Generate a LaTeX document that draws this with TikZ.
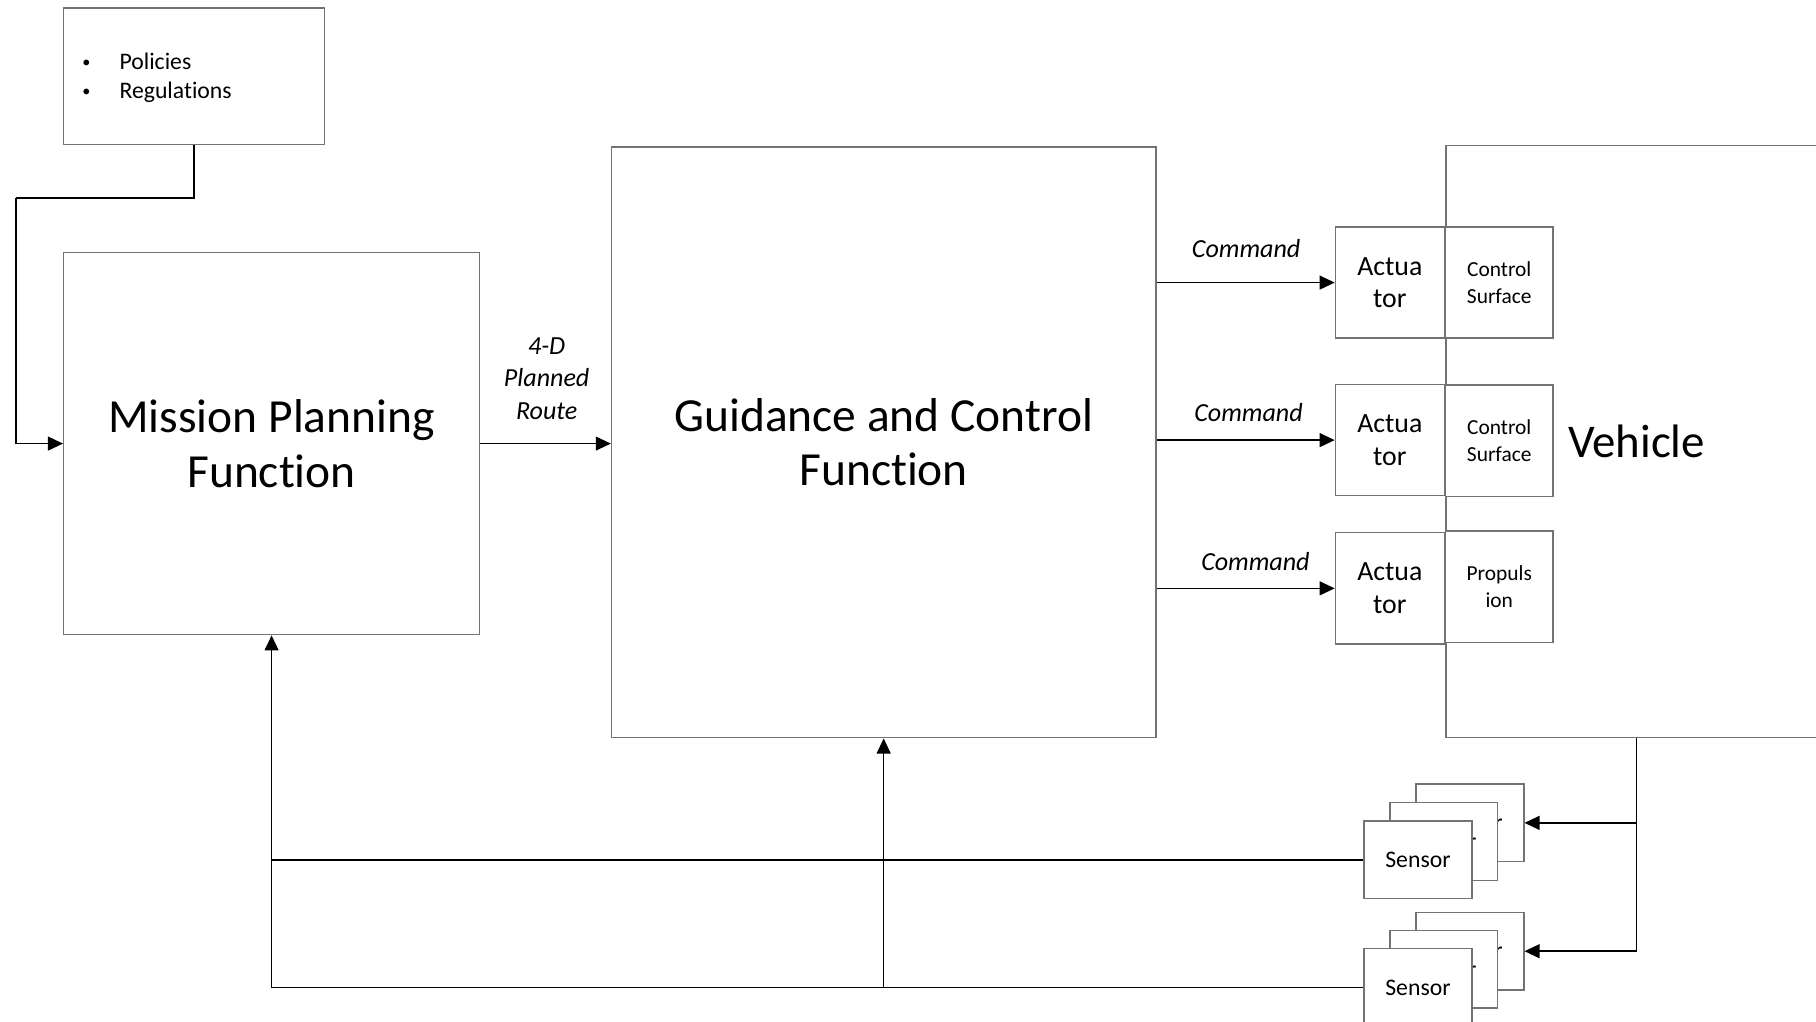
\documentclass[tikz,border=0pt]{standalone}
\usepackage{fontspec}
\setmainfont{Carlito}[Ligatures=NoCommon]
\usetikzlibrary{arrows.meta}
\newcommand{\listdot}{\makebox[33pt][l]{\hspace{1pt}\raisebox{1.5pt}{\fontsize{14}{14}\selectfont •}}}
\begin{document}
\begin{tikzpicture}[x=1pt,y=-1pt,
  box/.style={draw=black!55, line width=1.2pt, fill=white, inner sep=0pt, align=center},
  conn/.style={draw=black, line width=1.3pt},
  arr/.style={conn, -{Triangle[length=13pt,width=12pt]}},
  bigtxt/.style={font=\fontsize{41}{47}\selectfont, align=center},
  acttxt/.style={font=\fontsize{24}{28}\selectfont},
  parttxt/.style={font=\fontsize{18.5}{23}\selectfont},
  lbl/.style={font=\itshape\fontsize{22.5}{28}\selectfont, align=center, inner sep=0pt},
  actbox/.style={box, acttxt, minimum width=94, minimum height=96},
  partbox/.style={box, parttxt, minimum width=93, minimum height=96},
  sensorbox/.style={box, font=\fontsize{20.5}{24}\selectfont, minimum width=93, minimum height=67}
]
\useasboundingbox (0,0) rectangle (1568,882);
\clip (0,0) rectangle (1568,882);

% inputs to mission planning
\node[box, minimum width=225, minimum height=118] (pol) at (167.5,66) {};
\node[anchor=west, align=left, inner sep=0pt, font=\fontsize{20.5}{25.5}\selectfont] (poltxt) at (70,67)
  {\listdot Policies\\\listdot Regulations};

% main function blocks
\node[box, bigtxt, minimum width=359, minimum height=330] (mpf) at (234.5,383) {Mission Planning\\Function};
\node[box, bigtxt, minimum width=470, minimum height=510] (gcf) at (763,382) {Guidance and Control\\Function};

% vehicle body (extends past the right edge)
\node[box, anchor=north west, minimum width=420, minimum height=511] (veh) at (1248,125) {};
\node[font=\fontsize{40.5}{47}\selectfont, inner sep=0pt] (vtxt) at (1413,381) {Vehicle};

% actuators and effectors
\node[actbox] (act1) at (1200,244) {Actua\\tor};
\node[actbox] (act2) at (1200,380) {Actua\\tor};
\node[actbox] (act3) at (1200,508) {Actua\\tor};
\node[partbox] (cs1) at (1294.5,244) {Control\\Surface};
\node[partbox] (cs2) at (1294.5,380.5) {Control\\Surface};
\node[partbox] (prop) at (1294.5,506.5) {Propuls\\ion};

% sensor stacks (back to front)
\node[sensorbox] (s1b) at (1269.2,710.5) {Sensor};
\node[sensorbox] (s1m) at (1246.5,726.5) {Sensor};
\node[sensorbox] (s1f) at (1224.3,742.5) {Sensor};
\node[sensorbox] (s2b) at (1269.2,821.3) {Sensor};
\node[sensorbox] (s2m) at (1246.5,837) {Sensor};
\node[sensorbox] (s2f) at (1224.3,852.7) {Sensor};

% connectors
\coordinate (lk) at (14,171);
\draw[conn] (pol.south) |- (lk);
\draw[arr] (lk) |- (mpf.west);
\draw[arr] (mpf.east) -- (mpf.east -| gcf.west);
\node[lbl] (route) at (472,327) {4-D\\Planned\\Route};

\draw[arr] (act1.west -| gcf.east) -- (act1.west);
\draw[arr] (act2.west -| gcf.east) -- (act2.west);
\draw[arr] (act3.west -| gcf.east) -- (act3.west);
\node[lbl] (cmd1) at (1076,215) {Command};
\node[lbl] (cmd2) at (1078,356) {Command};
\node[lbl] (cmd3) at (1084,485) {Command};

\draw[arr] (vtxt |- veh.south) |- (s2b.east);
\draw[arr] (vtxt |- s1b.east) -- (s1b.east);

\draw[arr] (s2f.west) -| (mpf.south);
\draw[arr] (gcf.south |- s2f.west) -- (gcf.south);
\draw[conn] (s1f.west) -- (s1f.west -| mpf.south);
\end{tikzpicture}
\end{document}
